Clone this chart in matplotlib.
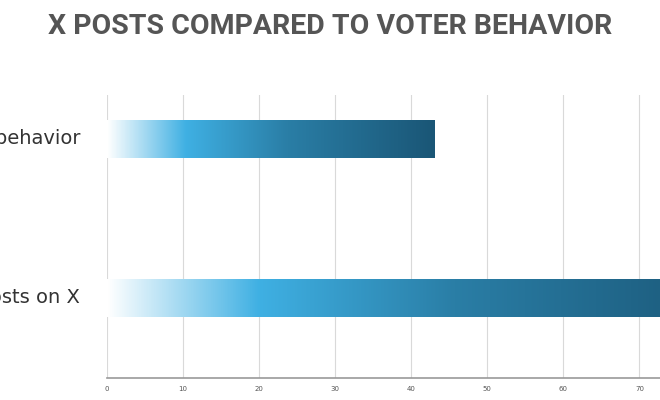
import matplotlib
matplotlib.use("Agg")
import matplotlib.pyplot as plt
import numpy as np
from matplotlib.colors import LinearSegmentedColormap
from matplotlib.patches import Rectangle

categories = ["Posts on X", "Voter behavior"]
values = [83, 43]
ticks = [0, 10, 20, 30, 40, 50, 60, 70]

fig = plt.figure(figsize=(6.6, 4.0), dpi=100)
ax = fig.add_axes([0.162, 0.055, 0.838, 0.7075])
cmap = LinearSegmentedColormap.from_list("g", [(0, "#ffffff"), (0.24, "#3fb0e3"), (0.55, "#2a7ea6"), (1, "#1a5676")])
h = 0.24
grad = np.linspace(0, 1, 256).reshape(1, -1)
for i, v in enumerate(values):
    rect = Rectangle((0, i - h/2), v, h, facecolor="none", edgecolor="none")
    ax.add_patch(rect)
    im = ax.imshow(grad, cmap=cmap, aspect="auto", extent=(0, v, i - h/2, i + h/2), zorder=3)
    im.set_clip_path(rect)
    ax.text(-3.5, i, categories[i], ha="right", va="center", fontsize=14, color="#333333", clip_on=False)
ax.set_xlim(0, 72.7)
ax.set_ylim(-0.504, 1.276)
ax.set_xticks(ticks)
ax.tick_params(axis="x", length=0, labelsize=5, colors="#555555", pad=6)
ax.set_yticks([])
ax.grid(axis="x", color="#d9d9d9", linewidth=0.8)
ax.set_axisbelow(True)
for s in ["top", "right", "left"]:
    ax.spines[s].set_visible(False)
ax.spines["bottom"].set_color("#999999")
ax.spines["bottom"].set_linewidth(1.2)
fig.text(0.5, 0.935, "X POSTS COMPARED TO VOTER BEHAVIOR", ha="center", va="center",
         fontsize=20.5, fontweight="bold", color="#555555", family="Roboto")
fig.savefig("out.png", dpi=100)
